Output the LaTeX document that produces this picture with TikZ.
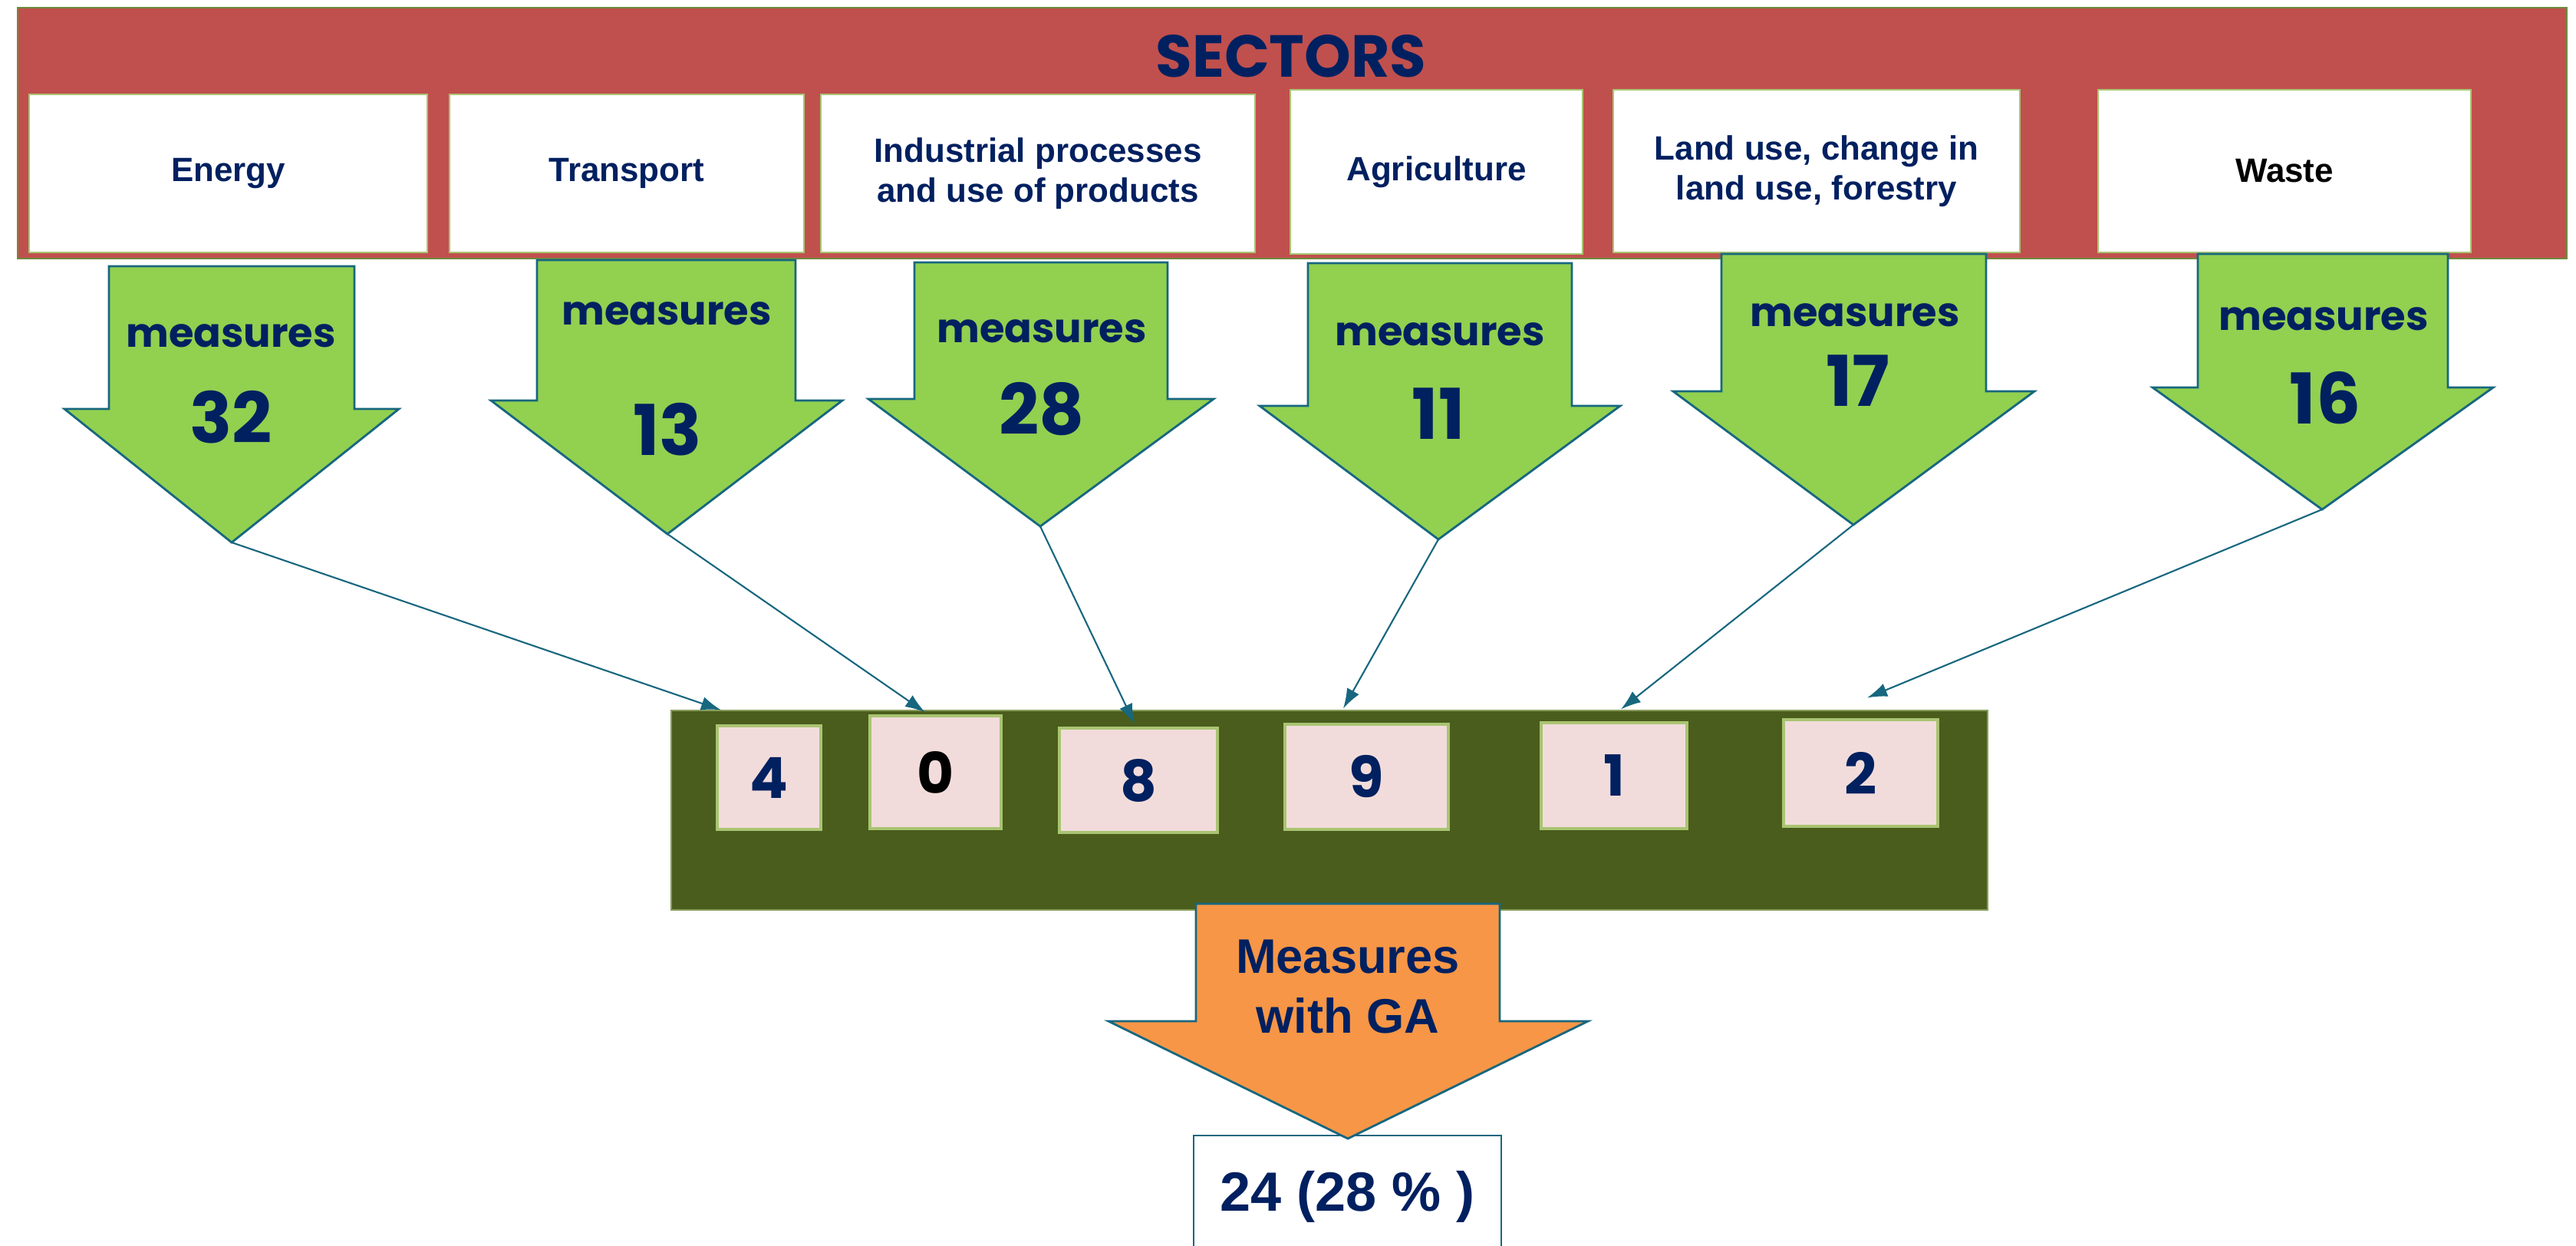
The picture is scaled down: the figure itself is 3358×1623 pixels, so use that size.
\documentclass[tikz,border=0pt]{standalone}
\usepackage{fontspec}
\setmainfont{Liberation Sans}
\newfontfamily\geofont{Poppins}
\usetikzlibrary{arrows.meta}
\definecolor{navy}{HTML}{002060}
\definecolor{bannerred}{HTML}{C0504D}
\definecolor{bannerrim}{HTML}{6E8B3D}
\definecolor{leafgreen}{HTML}{92D050}
\definecolor{edgeblue}{HTML}{17677F}
\definecolor{rimgreen}{HTML}{A9C472}
\definecolor{panelgreen}{HTML}{4A5D1C}
\definecolor{blush}{HTML}{F2DCDB}
\definecolor{gaorange}{HTML}{F79646}
\begin{document}
\begin{tikzpicture}[x=0.1mm,y=-0.1mm,>={Latex[length=2.6mm,width=1.8mm]},
		sector/.style={draw=rimgreen, line width=0.8pt, fill=white, text=navy, align=center, inner sep=0pt, font=\bfseries\fontsize{12.5}{15}\selectfont},
		shaft/.style={draw=edgeblue, line width=0.8pt, fill=leafgreen},
		meas/.style={text=navy, inner sep=0pt, font=\geofont\bfseries\fontsize{15}{18}\selectfont},
		count/.style={text=navy, inner sep=0pt, font=\geofont\bfseries\fontsize{26}{30}\selectfont},
		tally/.style={draw=rimgreen, line width=0.9pt, fill=blush, text=navy, inner sep=0pt, font=\geofont\bfseries\fontsize{21}{24}\selectfont},
		link/.style={->, draw=edgeblue, line width=0.6pt}]
	\useasboundingbox (0,0) rectangle (3358,1623);
	\draw[draw=bannerrim, line width=0.8pt, fill=bannerred] (23,10) rectangle (3346,337);
	\node[text=navy, font=\geofont\bfseries\fontsize{22}{26}\selectfont] (title) at (1683,73) {SECTORS};
	\node[sector, minimum width=51.9mm, minimum height=20.6mm] (energy) at (297.5,226) {Energy};
	\node[sector, minimum width=46.2mm, minimum height=20.6mm] (transport) at (817,226) {Transport};
	\node[sector, minimum width=56.6mm, minimum height=20.6mm] (industry) at (1353,226) {Industrial processes\\and use of products};
	\node[sector, minimum width=38.1mm, minimum height=21.4mm] (agri) at (1872.5,224) {Agriculture};
	\node[sector, minimum width=53mm, minimum height=21.2mm] (landuse) at (2368,223) {Land use, change in\\land use, forestry};
	\node[sector, text=black, minimum width=48.6mm, minimum height=21.2mm] (waste) at (2978,223) {Waste};

	\coordinate (tipE) at (302,707);
	\draw[shaft] (84,533) -- (142,533) -- (142,347) -- (462,347) -- (462,533) -- (520,533) -- (tipE) -- cycle;
	\node[meas] (mE) at (301,438) {measures};
	\node[count] (cE) at (301,544) {32};
	\coordinate (tipT) at (870,696);
	\draw[shaft] (640,522) -- (700,522) -- (700,339) -- (1037,339) -- (1037,522) -- (1098,522) -- (tipT) -- cycle;
	\node[meas] (mT) at (869,409) {measures};
	\node[count] (cT) at (870,560) {13};
	\coordinate (tipI) at (1356,686);
	\draw[shaft] (1132,520) -- (1192,520) -- (1192,342) -- (1522,342) -- (1522,520) -- (1582,520) -- (tipI) -- cycle;
	\node[meas] (mI) at (1358,432) {measures};
	\node[count] (cI) at (1358,533) {28};
	\coordinate (tipA) at (1875,703);
	\draw[shaft] (1642,529) -- (1705,529) -- (1705,343) -- (2049,343) -- (2049,529) -- (2112,529) -- (tipA) -- cycle;
	\node[meas] (mA) at (1877,436) {measures};
	\node[count] (cA) at (1875,539) {11};
	\coordinate (tipL) at (2416,684);
	\draw[shaft] (2181,510) -- (2244,510) -- (2244,331) -- (2589,331) -- (2589,510) -- (2652,510) -- (tipL) -- cycle;
	\node[meas] (mL) at (2418,411) {measures};
	\node[count] (cL) at (2422,496) {17};
	\coordinate (tipW) at (3027,664);
	\draw[shaft] (2806,505) -- (2865,505) -- (2865,331) -- (3191,331) -- (3191,505) -- (3250,505) -- (tipW) -- cycle;
	\node[meas] (mW) at (3029,416) {measures};
	\node[count] (cW) at (3031,519) {16};

	\node[draw=rimgreen!80!black, line width=0.8pt, fill=panelgreen, minimum width=171.6mm, minimum height=26mm] (panel) at (1733,1056) {};
	\node[tally, minimum width=13.5mm, minimum height=13.5mm] (n4) at (1002.5,1013.5) {4};
	\node[tally, text=black, minimum width=17.1mm, minimum height=14.7mm] (n0) at (1219.5,1006.5) {0};
	\node[tally, minimum width=20.6mm, minimum height=13.6mm] (n8) at (1484,1017) {8};
	\node[tally, minimum width=21.3mm, minimum height=13.7mm] (n9) at (1781.5,1012.5) {9};
	\node[tally, minimum width=19mm, minimum height=13.8mm] (n1) at (2104,1011) {1};
	\node[tally, minimum width=20.1mm, minimum height=13.9mm] (n2) at (2425.5,1007.5) {2};

	\draw[link] (tipE) -- ([xshift=-6.25mm,yshift=1.9mm]n4.north);
	\draw[link] (tipT) -- ([xshift=-1.35mm,yshift=0.3mm]n0.north);
	\draw[link] (tipI) -- ([xshift=-0.5mm,yshift=0.4mm]n8.north);
	\draw[link] (tipA) -- ([xshift=-3.05mm,yshift=1.9mm]n9.north);
	\draw[link] (tipL) -- ([xshift=0.9mm,yshift=1.6mm]n1.north);
	\draw[link] (tipW) -- ([xshift=0.85mm,yshift=2.7mm]n2.north);

	\node[draw=edgeblue, line width=0.8pt, fill=white, text=navy, minimum width=40.1mm, minimum height=16mm, font=\bfseries\fontsize{20.5}{24}\selectfont] (result) at (1756.5,1560) {24 (28 \% )};
	\coordinate (tipGA) at (1757,1484);
	\draw[shaft, fill=gaorange] (1445,1331) -- (1559,1331) -- (1559,1178) -- (1955,1178) -- (1955,1331) -- (2070,1331) -- (tipGA) -- cycle;
	\node[text=navy, align=center, font=\bfseries\fontsize{18}{22}\selectfont] (ga) at (1757,1286) {Measures\\with GA};
\end{tikzpicture}
\end{document}
